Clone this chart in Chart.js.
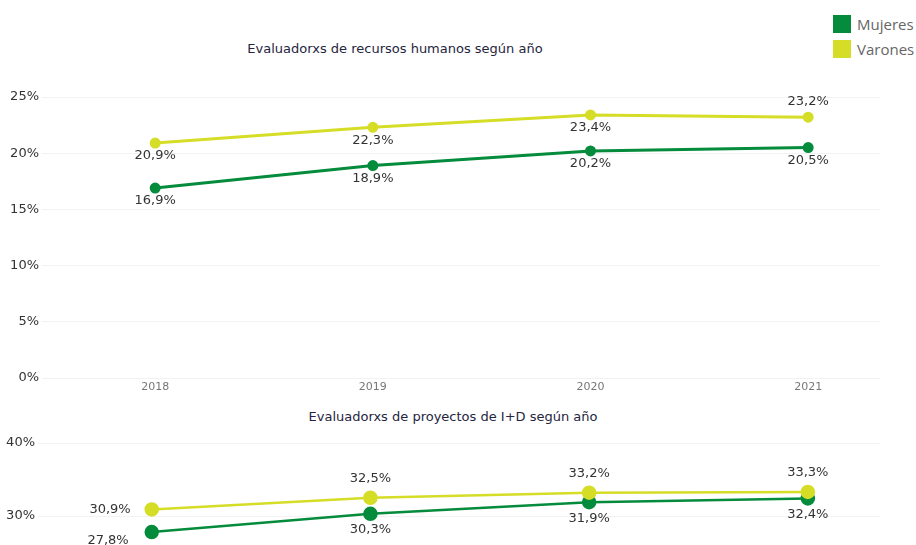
<!DOCTYPE html>
<html lang="es">

<head>
    <meta charset="UTF-8">
    <title>Evaluadorxs según año</title>
    <script src="https://cdn.jsdelivr.net/npm/chart.js"></script>
    <style>
        body {
            margin: 0;
            padding: 0;
            background: white;
            width: 916px;
            height: 545px;
            overflow: hidden;
            position: relative;
            font-family: "DejaVu Sans", sans-serif;
        }

        .title {
            position: absolute;
            font-size: 13px;
            color: #252540;
            white-space: nowrap;
            transform: translateX(-50%);
        }

        #legend {
            position: absolute;
            left: 833px;
            top: 11px;
            font-family: "Open Sans", sans-serif;
            font-size: 15px;
            color: #666;
        }

        #legend div {
            display: flex;
            align-items: center;
            height: 25px;
        }

        #legend span {
            display: inline-block;
            width: 18px;
            height: 18px;
            margin-right: 6px;
        }

        canvas {
            position: absolute;
            left: 0;
        }
    </style>
</head>

<body>
    <div id="legend">
        <div><span style="background:#058b3c"></span>Mujeres</div>
        <div><span style="background:#d5dd26"></span>Varones</div>
    </div>
    <div class="title" style="left:395px;top:41px">Evaluadorxs de recursos humanos según año</div>
    <div class="title" style="left:453px;top:409px">Evaluadorxs de proyectos de I+D según año</div>
    <canvas id="rrhh" width="916" height="400" style="top:0"></canvas>
    <canvas id="idi" width="916" height="360" style="top:400px"></canvas>

    <script>
        const years = [2018, 2019, 2020, 2021];
        const rrhhMujeres = [16.9, 18.9, 20.2, 20.5];
        const rrhhVarones = [20.9, 22.3, 23.4, 23.2];
        const idMujeres = [27.8, 30.3, 31.9, 32.4];
        const idVarones = [30.9, 32.5, 33.2, 33.3];

        const GREEN = "#058b3c";
        const YELLOW = "#d5dd26";

        // where each value label goes, relative to its point
        const rrhhMujeresPos = ["below", "below", "below", "below"];
        const rrhhVaronesPos = ["below", "below", "below", "above"];
        const idMujeresPos = ["belowleft", "below", "below", "below"];
        const idVaronesPos = ["left", "above", "above", "above"];

        function fmt(v) {
            return v.toFixed(1).replace(".", ",") + "%";
        }

        const valueLabels = {
            id: "valueLabels",
            afterDatasetsDraw(chart) {
                const ctx = chart.ctx;
                ctx.save();
                ctx.font = "13px 'DejaVu Sans'";
                ctx.fillStyle = "#333";
                ctx.textBaseline = "middle";
                chart.data.datasets.forEach((ds, i) => {
                    const meta = chart.getDatasetMeta(i);
                    meta.data.forEach((pt, j) => {
                        const pos = ds.labelPos[j];
                        const txt = fmt(ds.data[j].y);
                        let x = pt.x, y = pt.y;
                        ctx.textAlign = "center";
                        if (pos === "below") y += ds.labelGap + 1;
                        else if (pos === "above") y -= ds.labelGap + 4;
                        else if (pos === "left") { ctx.textAlign = "right"; x -= 21; }
                        else if (pos === "belowleft") { ctx.textAlign = "right"; x -= 23; y += 9; }
                        ctx.fillText(txt, x, y);
                    });
                });
                ctx.restore();
            }
        };

        function series(vals) {
            return vals.map((v, i) => ({ x: years[i], y: v }));
        }

        function makeChart(id, opts) {
            return new Chart(document.getElementById(id), {
                type: "line",
                data: {
                    datasets: [
                        {
                            label: "Varones",
                            data: series(opts.varones),
                            borderColor: YELLOW,
                            backgroundColor: YELLOW,
                            borderWidth: opts.lineWidth,
                            pointRadius: opts.radius,
                            pointHoverRadius: opts.radius,
                            labelPos: opts.varonesPos,
                            labelGap: opts.gap,
                        },
                        {
                            label: "Mujeres",
                            data: series(opts.mujeres),
                            borderColor: GREEN,
                            backgroundColor: GREEN,
                            borderWidth: opts.lineWidth,
                            pointRadius: opts.radius,
                            pointHoverRadius: opts.radius,
                            labelPos: opts.mujeresPos,
                            labelGap: opts.gap,
                        },
                    ],
                },
                options: {
                    responsive: false,
                    animation: false,
                    layout: { padding: { top: opts.top, right: 36, bottom: 0, left: 0 } },
                    plugins: {
                        legend: { display: false },
                        tooltip: { enabled: false },
                    },
                    scales: {
                        x: {
                            type: "linear",
                            min: 2017.48,
                            max: 2021.33,
                            afterBuildTicks: (s) => { s.ticks = years.map(v => ({ value: v })); },
                            afterFit: (s) => { s.height = opts.xHeight; },
                            grid: { display: false },
                            border: { display: false },
                            ticks: {
                                color: "#777",
                                font: { family: "DejaVu Sans", size: 11 },
                                padding: -5,
                                callback: (v) => String(v),
                            },
                        },
                        y: {
                            min: opts.ymin,
                            max: opts.ymax,
                            afterFit: (s) => { s.width = opts.yWidth; },
                            grid: { color: "#f2f2f2", drawTicks: false },
                            border: { display: false },
                            ticks: {
                                stepSize: opts.step,
                                color: "#333",
                                padding: 3,
                                font: { family: "DejaVu Sans", size: 13 },
                                callback: (v) => v + "%",
                            },
                        },
                    },
                },
                plugins: [valueLabels],
            });
        }

        makeChart("rrhh", {
            mujeres: rrhhMujeres, varones: rrhhVarones,
            mujeresPos: rrhhMujeresPos, varonesPos: rrhhVaronesPos,
            ymin: 0, ymax: 25, step: 5, top: 97, yWidth: 42, xHeight: 22,
            radius: 4, lineWidth: 3, gap: 12,
        });

        makeChart("idi", {
            mujeres: idMujeres, varones: idVarones,
            mujeresPos: idMujeresPos, varonesPos: idVaronesPos,
            ymin: 0, ymax: 40, step: 10, top: 43, yWidth: 38, xHeight: 25,
            radius: 6, lineWidth: 2.5, gap: 15,
        });
    </script>
</body>

</html>
